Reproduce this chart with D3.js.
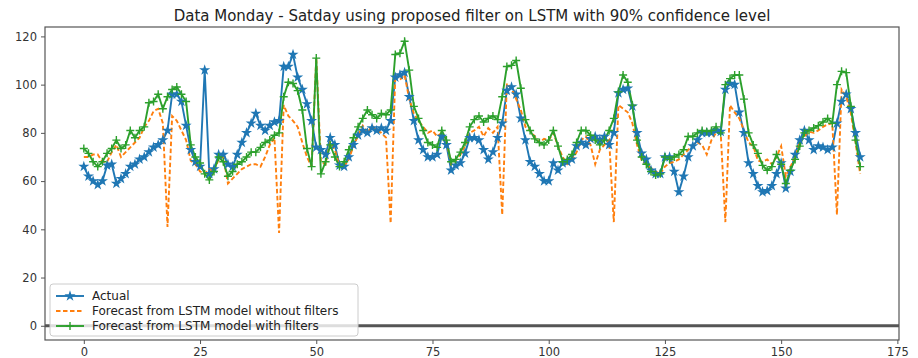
<!DOCTYPE html>
<html>
<head>
<meta charset="utf-8">
<script src="https://cdn.jsdelivr.net/npm/d3@7"></script>
<style>
    body { margin: 0; background: #fff; }
    svg { font-family: "DejaVu Sans", sans-serif; }
</style>
</head>
<body>
<svg id="chart" width="918" height="358"></svg>
<script>
// values, one per hour index 0..167
let actual = [66, 62, 60, 58.5, 60, 66.5, 67, 59, 61, 63, 66, 67, 69, 70, 72, 74, 75, 77, 81, 96,
    96, 93, 83, 73, 68, 66, 106, 63, 65, 71, 71, 67, 66, 71, 76, 80, 84, 88, 83, 81,
    83, 84.5, 85, 107.5, 107.5, 112.5, 103, 98, 92, 85, 74, 73, 71, 78, 75, 66.5, 66, 70, 75, 79,
    81, 80, 82, 81, 82, 81, 85, 103, 104, 105, 95, 85, 77, 73, 70, 70, 71, 78.5, 75, 64.5,
    66.5, 67.5, 71.5, 78, 78, 77, 73, 69, 72, 78, 84, 97.5, 99, 96, 86, 77, 68, 66, 63, 60,
    60, 67.5, 64.5, 67.5, 68, 69, 74.5, 76, 75, 77.5, 78.5, 77, 78.5, 75, 80, 96.5, 98, 98.5, 91, 80,
    71.5, 69, 64.5, 63, 63, 70, 70, 64, 55.5, 62, 70, 74.5, 77, 80, 80, 80, 81, 80.5, 98, 100.5,
    100, 88.5, 80, 67.5, 63, 58, 55.5, 56, 58, 63, 67.5, 57, 64, 71, 77, 81, 77, 73, 74.5, 74,
    73, 74, 84, 93, 96, 90, 80, 70];

let noFilter = [70, 70, 71, 71, 68, 68, 72, 75, 70, 72, 74, 76, 78, 82.5, 85, 89, 90, 84, 41, 87,
    85, 81, 77, 68.5, 67, 64, 63, 65, 64, 69, 70, 59, 61, 63, 65, 66, 67, 67, 66, 70,
    75, 78, 38.5, 91.5, 87, 85, 82.5, 76, 70, 66, 111, 68, 67, 76, 73, 66, 66, 69, 74.5, 79,
    83, 80, 83, 81, 80, 78, 42.5, 104, 102, 104, 94, 88, 85, 82.5, 80, 81, 78.5, 80, 77, 67,
    68.5, 71, 74.5, 80, 81, 82.5, 78.5, 82, 80, 82.5, 46, 100.5, 98.5, 94, 89.5, 82.5, 81, 78.5, 76, 77.5,
    77, 80, 74.5, 70, 67, 68.5, 72, 77, 78.5, 75, 67, 73, 75, 77, 43, 91.5, 90, 88.5, 84, 75,
    68.5, 67, 65.5, 64, 63, 66, 67.5, 68, 69, 71, 73, 74.5, 76, 75, 71, 77, 80, 80, 43, 91.5,
    88.5, 86, 81, 76, 74.5, 68.5, 68, 69, 67, 70, 74.5, 62, 66, 70, 76, 78.5, 80.5, 80, 81, 82.5,
    83.5, 84, 46, 98, 95, 88, 76, 63];

let withFilter = [73.5, 71.5, 68, 66, 68, 71.5, 73.5, 77, 73.5, 75, 81, 78, 81, 82.5, 92.5, 93, 96, 90, 95, 98,
    99, 96, 93, 75, 70, 67.5, 63, 60.5, 64, 70, 68, 62, 64, 67, 68, 70, 72, 72, 74, 76,
    77, 79, 80, 95, 101, 100.5, 97.5, 89.5, 73.5, 66, 111, 63, 68, 75, 70, 66, 68, 73, 78, 82.5,
    86, 89.5, 87.5, 86, 88, 87.5, 89.5, 112.5, 113, 118, 106, 91, 86, 81, 76, 75, 74, 81, 77, 68,
    69, 72, 76, 82.5, 85.5, 87, 84.5, 86, 87, 85.5, 95, 107.5, 108, 110, 98.5, 85.5, 81, 77.5, 76, 75,
    77, 81, 74.5, 68, 69, 71, 76, 81, 81, 79, 77, 75, 77, 81, 86, 97, 104, 101, 91.5, 77,
    70, 67, 64, 62.5, 63, 70, 69, 70, 71, 73, 78.5, 78.5, 80, 81, 80.5, 81, 82.5, 80, 100, 102.5,
    104, 104, 94, 80, 75, 71.5, 66.5, 64.5, 66, 71, 67, 59, 64.5, 69, 74.5, 80, 81, 82, 83, 84.5,
    86, 84, 100, 105.5, 105, 91, 77, 66];

let seriesNames = ["Actual", "Forecast from LSTM model without filters", "Forecast from LSTM model with filters"];
let seriesColors = ["#1f77b4", "#ff7f0e", "#2ca02c"];
let xTicks = [0, 25, 50, 75, 100, 125, 150, 175];
let yTicks = [0, 20, 40, 60, 80, 100, 120];
let title = "Data Monday - Satday using proposed filter on LSTM with 90% confidence level";

let width = 918, height = 358;
let margin = { top: 27, right: 19, bottom: 18, left: 45 };

let svg = d3.select("#chart");

// matplotlib style 5% padding around the data
let n = actual.length;
let xPad = (n - 1) * 0.05;
let yMax = d3.max([actual, noFilter, withFilter].flat());
let yPad = yMax * 0.05;

let x = d3.scaleLinear()
    .domain([-xPad, n - 1 + xPad])
    .range([margin.left, width - margin.right]);
let y = d3.scaleLinear()
    .domain([-yPad, yMax + yPad])
    .range([height - margin.bottom, margin.top]);

// axes
let xAxis = svg.append("g")
    .attr("transform", "translate(0," + (height - margin.bottom) + ")")
    .call(d3.axisBottom(x).tickValues(xTicks).tickSize(4).tickPadding(4));
let yAxis = svg.append("g")
    .attr("transform", "translate(" + margin.left + ",0)")
    .call(d3.axisLeft(y).tickValues(yTicks).tickSize(4).tickPadding(4));
for (let ax of [xAxis, yAxis]) {
    ax.select(".domain").remove();
    ax.selectAll("line").attr("stroke", "#555");
    ax.selectAll("text").attr("fill", "#333").style("font-size", "11.5px").style("font-family", "DejaVu Sans");
}

// grey line at zero
svg.append("line")
    .attr("x1", margin.left).attr("x2", width - margin.right)
    .attr("y1", y(0)).attr("y2", y(0))
    .attr("stroke", "#555")
    .attr("stroke-width", 3);

let line = d3.line()
    .x((d, i) => x(i))
    .y(d => y(d));

let plot = svg.append("g");

plot.append("path")
    .datum(actual)
    .attr("fill", "none")
    .attr("stroke", seriesColors[0])
    .attr("stroke-width", 1.9)
    .attr("d", line);

plot.append("path")
    .datum(noFilter)
    .attr("fill", "none")
    .attr("stroke", seriesColors[1])
    .attr("stroke-width", 1.9)
    .attr("stroke-dasharray", "4.5,2.5")
    .attr("d", line);

plot.append("path")
    .datum(withFilter)
    .attr("fill", "none")
    .attr("stroke", seriesColors[2])
    .attr("stroke-width", 1.9)
    .attr("d", line);

// markers
let star = d3.symbol().type(d3.symbolStar).size(38);
let plus = "M-4,0H4M0,-4V4";

plot.selectAll(".star")
    .data(actual)
    .enter()
    .append("path")
    .attr("class", "star")
    .attr("transform", (d, i) => "translate(" + x(i) + "," + y(d) + ")")
    .attr("d", star)
    .attr("fill", seriesColors[0]);

plot.selectAll(".plus")
    .data(withFilter)
    .enter()
    .append("path")
    .attr("class", "plus")
    .attr("transform", (d, i) => "translate(" + x(i) + "," + y(d) + ")")
    .attr("d", plus)
    .attr("stroke", seriesColors[2])
    .attr("stroke-width", 1.4);

// frame
svg.append("rect")
    .attr("x", margin.left).attr("y", margin.top)
    .attr("width", width - margin.left - margin.right)
    .attr("height", height - margin.top - margin.bottom)
    .attr("fill", "none")
    .attr("stroke", "#555")
    .attr("stroke-width", 1.2);

svg.append("text")
    .attr("x", (margin.left + width - margin.right) / 2)
    .attr("y", 21)
    .attr("text-anchor", "middle")
    .attr("fill", "#222")
    .style("font-size", "15px")
    .text(title);

// legend, lower left
let lg = svg.append("g").attr("transform", "translate(50,284)");
lg.append("rect")
    .attr("width", 308).attr("height", 52)
    .attr("rx", 3)
    .attr("fill", "#fff").attr("fill-opacity", 0.8)
    .attr("stroke", "#ccc");

let items = lg.selectAll(".item")
    .data(seriesNames)
    .enter()
    .append("g")
    .attr("transform", (d, i) => "translate(6," + (12 + i * 15) + ")");

items.append("line")
    .attr("x1", 0).attr("x2", 28)
    .attr("stroke", (d, i) => seriesColors[i])
    .attr("stroke-width", 1.9)
    .attr("stroke-dasharray", (d, i) => i == 1 ? "4.5,2.5" : null);
items.filter((d, i) => i == 0).append("path")
    .attr("transform", "translate(14,0)")
    .attr("d", star)
    .attr("fill", seriesColors[0]);
items.filter((d, i) => i == 2).append("path")
    .attr("transform", "translate(14,0)")
    .attr("d", plus)
    .attr("stroke", seriesColors[2])
    .attr("stroke-width", 1.4);

items.append("text")
    .attr("x", 36)
    .attr("dy", "0.35em")
    .attr("fill", "#222")
    .style("font-size", "12px")
    .text(d => d);
</script>
</body>
</html>
